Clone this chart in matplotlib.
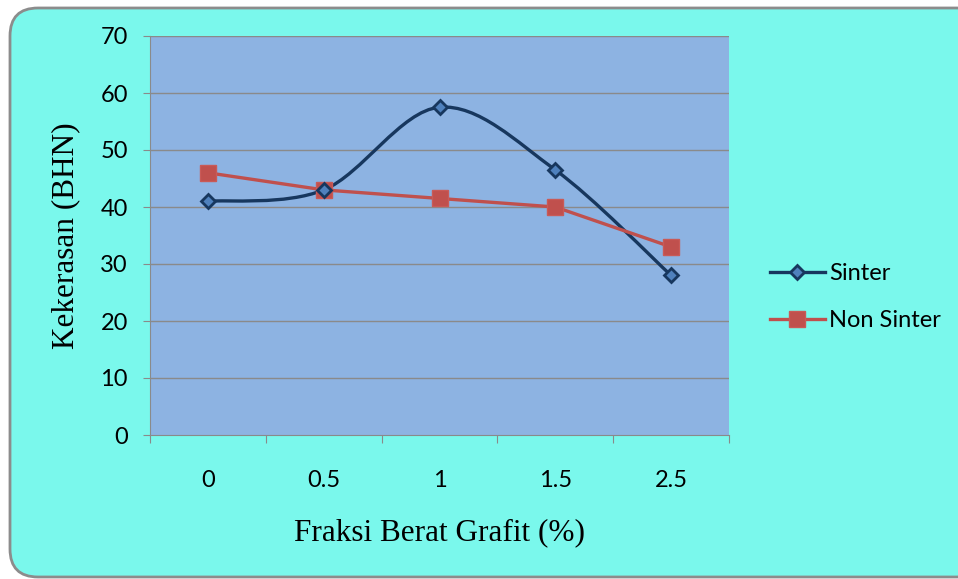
## HARDNESS VS GRAPHITE FRACTION CHART
import numpy as np
import matplotlib.pyplot as plt
from matplotlib.path import Path
from matplotlib.patches import PathPatch, FancyBboxPatch
from matplotlib.lines import Line2D

## DATA
categories=['0','0.5','1','1.5','2.5']
sinter=[41,43,57.5,46.5,28]
non_sinter=[46,43,41.5,40,33]
y_ticks=[0,10,20,30,40,50,60,70]

## COLORS
bg_box='#7AF8EC'
plot_bg='#8DB3E2'
navy='#17375E'
diamond_face='#4F81BD'
red='#C0504D'
grid_col='#8A8A8A'

## FUNCTION SMOOTH PATH (EXCEL LIKE BEZIER)
def smooth_path(x,y):
    pts=np.column_stack([x,y]).astype(float)
    n=len(pts)
    verts=[pts[0]]
    codes=[Path.MOVETO]
    for i in range(n-1):
        p_prev=pts[i-1] if i>0 else pts[i]
        p_next2=pts[i+2] if i+2<n else pts[i+1]
        c1=pts[i]+(pts[i+1]-p_prev)/6
        c2=pts[i+1]-(p_next2-pts[i])/6
        verts+= [c1,c2,pts[i+1]]
        codes+= [Path.CURVE4]*3
    return Path(verts,codes)

fig=plt.figure(figsize=(9.58,5.79),dpi=100)
fig.patch.set_facecolor('white')

# ROUNDED BACKGROUND BOX
box=FancyBboxPatch((10,2),975,569,boxstyle="round,pad=0,rounding_size=28",
                   transform=None,facecolor=bg_box,edgecolor='#8C8C8C',linewidth=2,zorder=-5)
fig.patches.append(box)

ax=fig.add_axes([150/958,(579-435)/579,(729-150)/958,(435-36)/579])
ax.set_facecolor(plot_bg)
x=np.arange(len(categories))

# GRID
for v in y_ticks[1:]:
    ax.axhline(v,color=grid_col,linewidth=1,zorder=1)

# SINTER (SMOOTH)
ax.add_patch(PathPatch(smooth_path(x,sinter),facecolor='none',edgecolor=navy,linewidth=2.4,zorder=3))
ax.plot(x,sinter,linestyle='none',marker='D',markersize=7,markerfacecolor=diamond_face,
        markeredgecolor=navy,markeredgewidth=2,zorder=5)

# NON SINTER
ax.plot(x,non_sinter,color=red,linewidth=2.4,marker='s',markersize=11,
        markerfacecolor=red,markeredgecolor='#C95A57',zorder=4)

ax.set_xlim(-0.5,len(categories)-0.5)
ax.set_ylim(0,70)

# SPINES
for s in ['top','right']:
    ax.spines[s].set_visible(False)
ax.spines['left'].set_color(grid_col)
ax.spines['bottom'].set_color(grid_col)

# TICKS
ax.set_yticks(y_ticks)
ax.tick_params(axis='y',length=5,color=grid_col,labelsize=17,pad=11)
ax.set_xticks(np.arange(-0.5,len(categories),1))
ax.set_xticklabels([])
ax.tick_params(axis='x',which='major',length=6,color=grid_col)
ax.set_xticks(x,minor=True)
ax.set_xticklabels(categories,minor=True)
ax.tick_params(axis='x',which='minor',length=0,labelsize=17,pad=25)
for lbl in ax.get_xticklabels(minor=True)+ax.get_yticklabels():
    lbl.set_fontfamily('Lato')

ax.set_xlabel('Fraksi Berat Grafit (%)',fontfamily='Liberation Serif',fontsize=22.5,labelpad=20)
ax.set_ylabel('Kekerasan (BHN)',fontfamily='Liberation Serif',fontsize=22.5,labelpad=14)

# LEGEND
handles=[Line2D([],[],color=navy,linewidth=2.4,marker='D',markersize=7,markerfacecolor=diamond_face,
                markeredgecolor=navy,markeredgewidth=2),
         Line2D([],[],color=red,linewidth=2.4,marker='s',markersize=11,markerfacecolor=red,
                markeredgecolor='#C95A57')]
leg=fig.legend(handles,['Sinter','Non Sinter'],loc='center left',bbox_to_anchor=(749/958,(579-297)/579),
               frameon=False,prop={'family':'Lato','size':17},handlelength=2.3,handletextpad=0.2,
               labelspacing=1.1)

plt.savefig('out.png',dpi=100)
